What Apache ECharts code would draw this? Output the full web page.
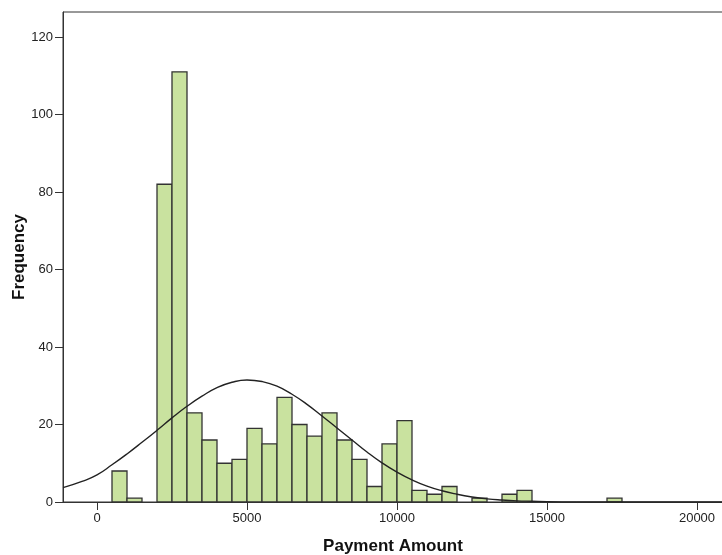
<!DOCTYPE html>
<html>
<head>
<meta charset="utf-8">
<script src="https://cdn.jsdelivr.net/npm/echarts@6/dist/echarts.min.js"></script>
<style>
html,body{margin:0;padding:0;background:#fff;}
#chart{width:722px;height:555px;}
</style>
</head>
<body>
<div id="chart"></div>
<script>
// Histogram bins (lower edge), bin width 500
const binLower = [500,1000,2000,2500,3000,3500,4000,4500,5000,5500,6000,6500,7000,7500,8000,8500,9000,9500,10000,10500,11000,11500,12500,13500,14000,17000];
const counts   = [8,1,82,111,23,16,10,11,19,15,27,20,17,23,16,11,4,15,21,3,2,4,1,2,3,1];
const binWidth = 500;

// Normal curve
const curveX = [-1133,-500,0,500,1000,1500,2000,2500,3000,3500,4000,4500,5000,5500,6000,6500,7000,7500,8000,8500,9000,9500,10000,10500,11000,11500,12000,12500,13000,13500,14000,14500,15000,16000,17000,18000,19000,20000,20866];
const curveY = [3.7,5.3,7.0,9.6,12.4,15.4,18.5,21.7,24.7,27.3,29.5,30.9,31.5,31.1,29.9,27.8,25.2,22.2,19.1,16.0,12.9,10.1,7.7,5.7,4.1,2.9,2.0,1.3,0.8,0.5,0.3,0.2,0.1,0.02,0,0,0,0,0];

const xTicks = [0,5000,10000,15000,20000];
const yTicks = [0,20,40,60,80,100,120];

const histData = binLower.map((b,i)=>[b, b+binWidth, counts[i]]);
const curveData = curveX.map((x,i)=>[x, curveY[i]]);

const chart = echarts.init(document.getElementById('chart'), null, {renderer:'canvas'});
const axisColor = '#333';
chart.setOption({
  animation:false,
  backgroundColor:'#fff',
  grid:{left:63, right:-1, top:12, bottom:53, containLabel:false, outerBoundsMode:'none', show:true, borderColor:axisColor, borderWidth:1, backgroundColor:'transparent'},
  xAxis:{
    type:'value', min:-1133.3, max:20866.7,
    name:'Payment Amount', nameLocation:'middle', nameGap:36,
    nameTextStyle:{fontFamily:'Liberation Sans', fontSize:17, fontWeight:'bold', color:'#111'},
    axisLine:{show:true, onZero:false, lineStyle:{color:axisColor, width:1}},
    axisTick:{show:true, length:8, customValues:xTicks, lineStyle:{color:axisColor}},
    axisLabel:{customValues:xTicks, margin:10, fontFamily:'Liberation Sans', fontSize:13, color:'#222', formatter:function(v){return String(v);}},
    splitLine:{show:false}
  },
  yAxis:{
    type:'value', min:0, max:126.45,
    name:'Frequency', nameLocation:'middle', nameGap:35, nameMoveOverlap:false,
    nameTextStyle:{fontFamily:'Liberation Sans', fontSize:17, fontWeight:'bold', color:'#111'},
    axisLine:{show:true, onZero:false, lineStyle:{color:axisColor, width:1}},
    axisTick:{show:true, length:8, customValues:yTicks, lineStyle:{color:axisColor}},
    axisLabel:{customValues:yTicks, margin:10, fontFamily:'Liberation Sans', fontSize:13, color:'#222', formatter:function(v){return String(v);}},
    splitLine:{show:false}
  },
  series:[
    {
      type:'custom',
      data:histData,
      encode:{x:[0,1], y:2},
      renderItem:function(params, api){
        const p0 = api.coord([api.value(0), api.value(2)]);
        const p1 = api.coord([api.value(1), 0]);
        return {
          type:'rect',
          shape:{x:p0[0], y:p0[1], width:p1[0]-p0[0], height:p1[1]-p0[1]},
          style:{fill:'#c9e29f', stroke:'#333', lineWidth:1.3}
        };
      },
      z:2
    },
    {
      type:'line',
      data:curveData,
      smooth:0.5,
      showSymbol:false,
      lineStyle:{color:'#222', width:1.4},
      z:3
    }
  ]
});
</script>
</body>
</html>
